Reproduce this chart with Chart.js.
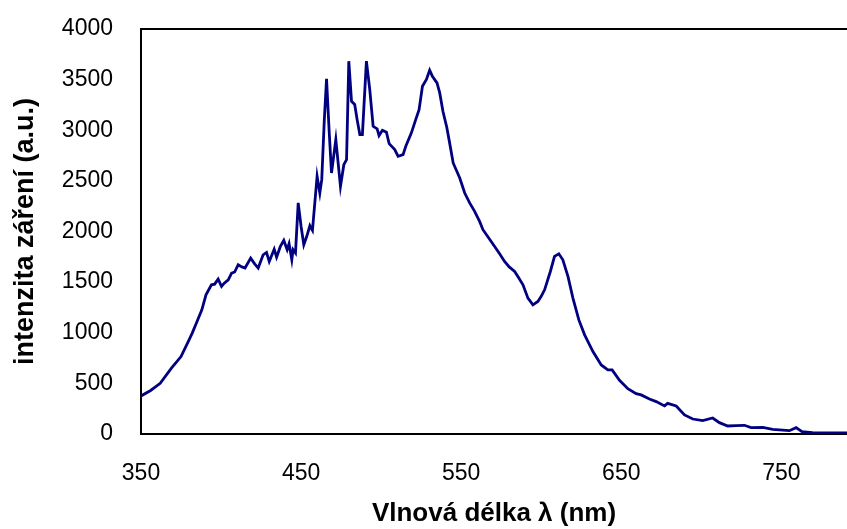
<!DOCTYPE html>
<html>
<head>
<meta charset="utf-8">
<script src="https://cdn.jsdelivr.net/npm/chart.js@4.4.1/dist/chart.umd.min.js"></script>
<style>
  html, body { margin: 0; padding: 0; background: #fff; }
  #wrap { width: 847px; height: 529px; }
</style>
</head>
<body>
<div id="wrap"><canvas id="spectrum"></canvas></div>
<script>
// wavelength (nm) and intensity (a.u.)
const wavelengths = [350, 356, 362, 369, 375, 379.5, 382, 385, 388, 390.6, 394, 396, 398.2, 400.3, 402, 404.5, 406.6, 408.5, 410.7, 413, 415, 418.5, 421, 423.2, 426.3, 428.4, 430.1, 433.2, 434.7, 437, 439.2, 441.3, 442.5, 444.2, 445, 446.5, 448.2, 450, 451.7, 453.5, 455.5, 457.1, 460, 461.7, 462.9, 464.5, 465.9, 467.5, 469, 471.7, 473, 474.6, 476.7, 478.4, 479.8, 481.5, 483.5, 485, 486.7, 488.3, 490.8, 492.9, 495, 497.5, 498.7, 500.8, 503.3, 505, 508.5, 510.6, 513.7, 515.4, 518.9, 521.6, 523.7, 525.8, 528.3, 530.3, 532, 534.9, 536.6, 538.6, 541, 542.5, 545, 549.1, 552.2, 555.3, 558.4, 561.5, 563.6, 567, 570.9, 574, 577.1, 580, 583.4, 586, 588.6, 591.7, 594.8, 597.9, 600, 602.1, 605.7, 608.3, 611, 613.5, 616.7, 619.8, 623.5, 627.1, 632.3, 637.5, 641.6, 644.3, 648.9, 654.1, 659.3, 662.4, 667.6, 671.8, 677, 679, 684.3, 689.5, 694.7, 700.9, 707.1, 711.3, 716.5, 721.7, 726.9, 731.1, 738.4, 744.6, 755, 759.2, 762.9, 769.5, 780, 791];
const intensity = [376, 430, 501, 650, 765, 913, 996, 1111, 1226, 1375, 1474, 1480, 1530, 1457, 1490, 1523, 1589, 1600, 1671, 1650, 1639, 1737, 1680, 1639, 1770, 1793, 1704, 1826, 1747, 1850, 1912, 1820, 1879, 1721, 1820, 1787, 2282, 2050, 1869, 1950, 2057, 2011, 2545, 2380, 2512, 3100, 3508, 3000, 2578, 2908, 2700, 2446, 2660, 2710, 3682, 3286, 3254, 3105, 2957, 2957, 3682, 3402, 3039, 3013, 2947, 3000, 2980, 2868, 2809, 2743, 2759, 2842, 2974, 3105, 3204, 3435, 3501, 3593, 3534, 3468, 3369, 3188, 3030, 2900, 2677, 2529, 2380, 2282, 2199, 2100, 2018, 1940, 1852, 1780, 1704, 1650, 1605, 1540, 1474, 1342, 1276, 1309, 1360, 1424, 1605, 1754, 1780, 1721, 1556, 1342, 1127, 979, 814, 682, 633, 633, 530, 447, 399, 386, 346, 320, 277, 303, 277, 188, 148, 132, 158, 112, 79, 82, 86, 63, 66, 46, 33, 63, 23, 13, 10, 10];

const xTicks = [350, 450, 550, 650, 750];
const yTicks = [0, 500, 1000, 1500, 2000, 2500, 3000, 3500, 4000];

const points = wavelengths.map((w, i) => ({ x: w, y: intensity[i] }));

// top edge of the plot frame
const frameTop = {
  id: 'frameTop',
  afterDraw(chart) {
    const a = chart.chartArea;
    const ctx = chart.ctx;
    ctx.save();
    ctx.strokeStyle = '#000';
    ctx.lineWidth = 2;
    ctx.beginPath();
    ctx.moveTo(a.left - 1, a.top);
    ctx.lineTo(a.right, a.top);
    ctx.stroke();
    ctx.restore();
  }
};

const font = 'Liberation Sans';

new Chart(document.getElementById('spectrum'), {
  type: 'line',
  data: {
    datasets: [{
      data: points,
      borderColor: '#000080',
      borderWidth: 2.8,
      pointRadius: 0,
      tension: 0,
      fill: false
    }]
  },
  options: {
    responsive: true,
    maintainAspectRatio: false,
    animation: false,
    layout: { padding: { top: 29, right: 0, bottom: 0, left: 0 } },
    plugins: {
      legend: { display: false },
      tooltip: { enabled: false }
    },
    scales: {
      x: {
        type: 'linear',
        min: 350,
        max: 791,
        afterBuildTicks: scale => { scale.ticks = xTicks.map(v => ({ value: v })); },
        afterFit: scale => { scale.height = 95; scale.paddingRight = 0; },
        grid: { display: false, drawTicks: false },
        border: { display: true, color: '#000', width: 2 },
        ticks: { color: '#000', font: { family: font, size: 23 }, padding: 26, maxRotation: 0,
          callback: v => String(v) },
        title: {
          display: true,
          text: 'Vlnová délka λ (nm)',
          color: '#000',
          font: { family: font, size: 26, weight: 'bold' },
          padding: { top: 3, bottom: 0 }
        }
      },
      y: {
        min: 0,
        max: 4000,
        afterBuildTicks: scale => { scale.ticks = yTicks.map(v => ({ value: v })); },
        afterFit: scale => { scale.width = 141; scale.paddingTop = 0; scale.paddingBottom = 0; },
        grid: { display: false, drawTicks: false },
        border: { display: true, color: '#000', width: 2 },
        ticks: { color: '#000', font: { family: font, size: 23 }, padding: 28,
          callback: v => String(v) },
        title: {
          display: true,
          text: 'intenzita záření (a.u.)',
          color: '#000',
          font: { family: font, size: 27, weight: 'bold' },
          padding: { top: 9, bottom: 0 }
        }
      }
    }
  },
  plugins: [frameTop]
});
</script>
</body>
</html>
